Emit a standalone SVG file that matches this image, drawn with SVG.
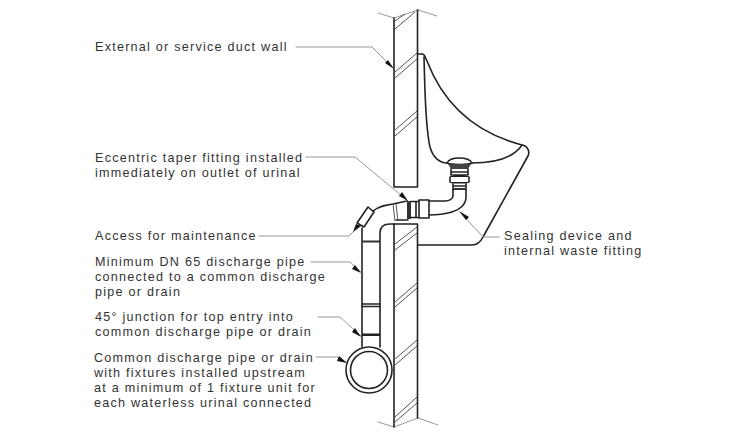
<svg xmlns="http://www.w3.org/2000/svg" width="730" height="437" viewBox="0 0 730 437">
<style>
text{font-family:"Liberation Sans",Arial,sans-serif;font-size:12.6px;letter-spacing:1.24px;fill:#333}
.l{fill:none;stroke:#222;stroke-width:1.6;stroke-linejoin:round;stroke-linecap:round}
.g{fill:none;stroke:#999;stroke-width:1;stroke-linecap:round;stroke-linejoin:round}
.h{fill:none;stroke:#555;stroke-width:1}
.a{fill:#111;stroke:none}
</style>
<rect width="730" height="437" fill="#fff"/>
<g id="wall">
<path class="g" d="M378 13L394 18M418 10L437 16M378 422L394 427M418 418L438 425M394 18L418 10M394 427L418 418"/>
<path class="l" d="M394 18V187H417.500V10M394 224H417.500V418M394 224V427"/>
<path class="h" d="M395 21L405 14M395 29L415 12M395 72L417 53M395 78L417 59M395 130L417 111M395 136L417 117M395 244L417 227M395 250L417 233M395 302L417 283M395 307L417 288M395 359L417 340M395 365L417 346M395 417L417 397M395 422L417 403"/>
</g>
<g id="urinal">
<path class="l" d="M418 54H422C425 54 425 57 427 61C445 108 480 134 522 145C528 146 530 152 528 156L483 237C480 243 477 245 472 245H418"/>
<path class="l" d="M424 57C425 90 425 125 430 147C433 158 440 163 447 163M472 163C490 163 512 160 522 145"/>
</g>
<g id="waste-fitting">
<path class="l" d="M447 163C449 159 454 158 459 158C465 158 470 159 472 163C468 165 452 165 447 163Z"/>
<path d="M448 164H471L468 169H451Z" fill="#444"/>
<path class="l" d="M451 169V175M468 169V175M451 172H468M451 175H468M450 177C450 176 469 176 469 177V182C469 183 450 183 450 182ZM453 183V190M466 183V190M453 186H466"/>
<path d="M453 188H466V190H453Z" fill="#333"/>
</g>
<g id="discharge-pipe">
<path class="l" d="M453 190V196C453 199 449 201 445 201H429M466 190V197C466 205 459 210 452 212C445 214 437 215 429 215"/>
<path class="l" d="M419 200H429V218H419ZM416 201.500V217M411 201.500H419M411 217.500H419"/>
<path d="M407 201H411V219H407Z" fill="#333"/>
<path class="l" d="M407 201L393 204C386 205 379 206 373 211M362 228V347M380 347V233C380 227 384 224 390 224L394 224M408 220H396"/>
<path class="h" d="M393 204L395 221M396 204L398 221"/>
<path class="l" d="M368 207L374 212L364 227L357 223Z"/>
<path d="M362 240.500H380V242.500H362Z" fill="#333"/>
<path class="l" d="M362 304H380M362 306.500H380"/>
<path d="M362 333.500H380V336H362Z" fill="#222"/>
<circle class="l" cx="369" cy="370" r="23" style="fill:#fff"/>
<circle class="l" cx="369" cy="370" r="18.500"/>
</g>
<g id="connectors">
<path class="g" d="M296 47H372L393 68M306 157H355L408 201M259 236H349L357 228M311 262H350L361 272M318 317H340L361 336M316 357H337L346 362M499 237H483L460 212"/>
<path class="a" d="M394 69L385 63L388 60ZM408 201L399 196L402 192ZM353 232L361 226L356 224ZM361 273L352 269L355 265ZM361 337L352 332L355 328ZM347 363L337 361L339 356ZM459 211L469 217L466 220Z"/>
</g>
<g id="labels">
<text x="95" y="51">External or service duct wall</text>
<text x="95" y="162">Eccentric taper fitting installed</text>
<text x="95" y="177">immediately on outlet of urinal</text>
<text x="95" y="240">Access for maintenance</text>
<text x="95" y="266">Minimum DN 65 discharge pipe</text>
<text x="95" y="281">connected to a common discharge</text>
<text x="95" y="296">pipe or drain</text>
<text x="95" y="321">45° junction for top entry into</text>
<text x="95" y="336">common discharge pipe or drain</text>
<text x="94" y="362">Common discharge pipe or drain</text>
<text x="94" y="377">with fixtures installed upstream</text>
<text x="94" y="392">at a minimum of 1 fixture unit for</text>
<text x="94" y="407">each waterless urinal connected</text>
<text x="504" y="240">Sealing device and</text>
<text x="504" y="255">internal waste fitting</text>
</g>
</svg>
